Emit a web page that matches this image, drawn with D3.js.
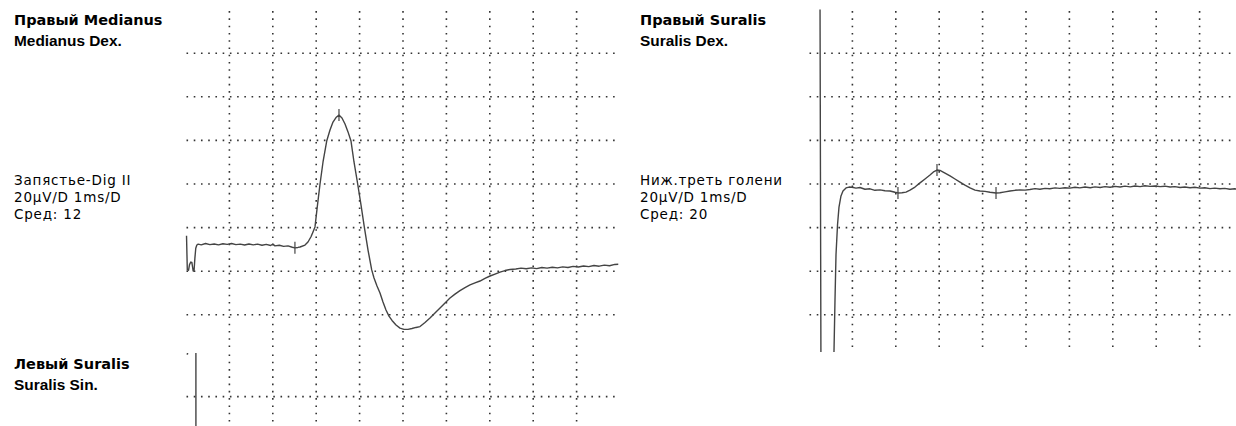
<!DOCTYPE html>
<html>
<head>
<meta charset="utf-8">
<script src="https://cdn.jsdelivr.net/npm/d3@7"></script>
<style>
  body { margin: 0; background: #fff; }
  svg { display: block; font-family: "DejaVu Sans", Verdana, sans-serif; }
</style>
</head>
<body>
<div id="emg"></div>
<script>
// time in ms, amplitude in µV (20 µV per division)
var medianusTime = [0.012, 0.030, 0.058, 0.081, 0.110, 0.135, 0.165, 0.185, 0.205, 0.225, 0.250, 0.280,
  0.35, 0.45, 0.55, 0.65, 0.75, 0.85, 0.95, 1.05, 1.15, 1.25, 1.35, 1.45, 1.55, 1.65, 1.75, 1.85, 1.95,
  2.00, 2.05, 2.15, 2.25, 2.35, 2.45, 2.51, 2.58, 2.627, 2.742, 2.811, 2.880, 2.926, 2.972, 3.030, 3.088,
  3.157, 3.242, 3.318, 3.387, 3.456, 3.525, 3.594, 3.664, 3.733, 3.802, 3.871, 3.956, 4.032, 4.108, 4.194,
  4.279, 4.332, 4.401, 4.470, 4.539, 4.608, 4.677, 4.747, 4.839, 4.931, 5.023, 5.115, 5.207, 5.300, 5.392,
  5.507, 5.622, 5.737, 5.853, 5.968, 6.083, 6.198, 6.313, 6.429, 6.544, 6.659, 6.774, 6.889, 7.005, 7.120,
  7.235, 7.350, 7.465, 7.60, 7.72, 7.84, 7.96, 8.08, 8.20, 8.32, 8.44, 8.56, 8.68, 8.80, 8.92, 9.04, 9.16,
  9.28, 9.40, 9.52, 9.64, 9.76, 9.88, 9.96];
var medianusAmp = [-23.7, -39.4, -39.6, -37.0, -35.8, -36.0, -39.9, -39.9, -34.0, -29.5, -28.0, -27.6,
  -27.9, -27.3, -27.8, -27.5, -27.9, -27.4, -27.7, -27.3, -27.8, -27.6, -28.0, -27.5, -27.9, -27.6, -28.1, -27.7, -28.2,
  -27.6, -28.4, -28.1, -28.6, -28.4, -29.0, -29.3, -29.1, -28.9, -28.0, -26.6, -24.2, -22.0, -19.7, -9.6, 0.0,
  10.1, 19.7, 24.8, 28.4, 30.5, 31.6, 30.3, 27.5, 23.9, 19.7, 10.1, 0.0, -9.6, -19.7, -30.3,
  -39.4, -43.1, -46.8, -50.0, -54.1, -57.8, -60.6, -62.6, -64.7, -66.1, -66.7, -66.7, -66.3, -65.8, -65.4,
  -63.5, -61.5, -59.2, -56.9, -54.6, -52.3, -50.5, -48.9, -47.5, -46.3, -45.4, -44.5, -43.3, -42.2, -41.3,
  -40.4, -39.7, -39.2, -39.0, -38.6, -38.9, -38.5, -38.8, -38.3, -38.6, -38.2, -38.5, -38.0, -38.3, -37.8, -38.1, -37.6,
  -37.9, -37.4, -37.7, -37.2, -37.5, -36.9, -36.8];
var medianusMarks = [2.51, 3.525];

var suralisDexTime = [0, 0.253, 0.276, 0.553, 0.576, 0.599, 0.622, 0.657, 0.691, 0.737, 0.783, 0.853, 0.922,
  0.991, 1.083, 1.175, 1.29, 1.406, 1.52, 1.636, 1.751, 1.866, 1.982, 2.05, 2.143, 2.235, 2.327, 2.442, 2.558,
  2.673, 2.788, 2.88, 2.949, 3.018, 3.134, 3.249, 3.364, 3.479, 3.594, 3.71, 3.825, 3.94, 4.055, 4.171, 4.309,
  4.4, 4.516, 4.631, 4.747, 4.862, 4.98, 5.09, 5.21, 5.32, 5.44, 5.55, 5.67, 5.78, 5.90, 6.01, 6.13, 6.24,
  6.36, 6.48, 6.59, 6.71, 6.82, 6.94, 7.05, 7.17, 7.28, 7.40, 7.51, 7.63, 7.74, 7.86, 7.97, 8.09, 8.20, 8.32,
  8.43, 8.55, 8.66, 8.78, 8.89, 9.01, 9.12, 9.24, 9.35, 9.47, 9.58, 9.70, 9.81, 9.93, 10.0];
var suralisDexAmp = [90, 90, -90, -90, -76.6, -53.2, -32.6, -18.8, -10.6, -5.5, -3.2, -1.8, -1.4,
  -1.5, -1.9, -1.6, -2.4, -2.2, -2.9, -2.7, -3.1, -3.2, -3.8, -4.1, -4.0, -3.7, -2.8, -1.4, 0.5,
  2.3, 4.1, 5.7, 6.4, 6.2, 5.0, 3.7, 2.3, 0.9, -0.5, -1.8, -2.8, -3.2, -3.4, -3.8, -4.1,
  -4.0, -3.6, -3.2, -2.9, -2.7, -2.8, -2.5, -2.1, -2.4, -2.0, -2.2, -1.8, -2.0, -1.7, -1.9, -1.5, -1.8,
  -1.4, -1.7, -1.3, -1.6, -1.2, -1.5, -1.1, -1.4, -1.0, -1.3, -0.9, -1.2, -0.8, -1.1, -0.9, -1.2, -1.0, -1.4,
  -1.2, -1.6, -1.4, -1.7, -1.5, -1.9, -1.7, -2.1, -1.9, -2.2, -2.0, -2.4, -2.2, -2.5, -2.4];
var suralisDexMarks = [2.05, 2.949, 4.309];

var suralisSinTime = [0.015, 0.035, 0.045, 0.228, 0.232, 0.40];
var suralisSinAmp = [79.5, 79.5, 90, 90, -200, -200];
var suralisSinMarks = [];

var titles = ["Правый Medianus", "Правый Suralis", "Левый Suralis"];
var subtitles = ["Medianus Dex.", "Suralis Dex.", "Suralis Sin."];
var siteLabels = ["Запястье-Dig II", "Ниж.треть голени", null];
var sweepLabel = "20µV/D 1ms/D";
var averages = [12, 20, null];
var timeTicks = [1, 2, 3, 4, 5, 6, 7, 8, 9];
var ampTicks = [-60, -40, -20, 0, 20, 40, 60];

var W = 1236, H = 426;
var divX = 43.4, divY = 43.6;

var panels = [
  { i: 0, left: 186, top: 9.6, textX: 14, t: medianusTime, v: medianusAmp, marks: medianusMarks },
  { i: 1, left: 809, top: 9.6, textX: 640, t: suralisDexTime, v: suralisDexAmp, marks: suralisDexMarks },
  { i: 2, left: 186, top: 353, textX: 14, t: suralisSinTime, v: suralisSinAmp, marks: suralisSinMarks }
];

var svg = d3.select("#emg").append("svg")
  .attr("width", W)
  .attr("height", H);

svg.append("rect").attr("width", W).attr("height", H).attr("fill", "#fff");

var defs = svg.append("defs");

panels.forEach(function (p) {
  var x = d3.scaleLinear().domain([0, 10]).range([p.left, p.left + 10 * divX]);
  var y = d3.scaleLinear().domain([-80, 80]).range([p.top + 8 * divY, p.top]);
  var gridBottom = p.i == 2 ? H : 351;

  var g = svg.append("g");

  // dotted grid
  g.selectAll("line.v").data(timeTicks).enter().append("line")
    .attr("x1", function (d) { return x(d); })
    .attr("x2", function (d) { return x(d); })
    .attr("y1", p.top + 1.5)
    .attr("y2", gridBottom)
    .attr("stroke", "#333")
    .attr("stroke-width", 1.6)
    .attr("stroke-dasharray", "1.6,5.67");

  g.selectAll("line.h").data(ampTicks).enter().append("line")
    .attr("x1", x(0) + 0.5)
    .attr("x2", Math.min(x(10), W))
    .attr("y1", function (d) { return y(d); })
    .attr("y2", function (d) { return y(d); })
    .attr("stroke", "#333")
    .attr("stroke-width", 1.6)
    .attr("stroke-dasharray", "1.6,5.63");

  // trace, clipped to the panel like the device screen
  var clipId = "clip" + p.i;
  defs.append("clipPath").attr("id", clipId)
    .append("rect")
    .attr("x", x(0) - 1)
    .attr("y", p.top)
    .attr("width", 10 * divX + 2)
    .attr("height", (p.i == 2 ? H - p.top : 352 - p.top));

  var pts = p.t.map(function (t, k) { return [t, p.v[k]]; });
  var line = d3.line()
    .x(function (d) { return x(d[0]); })
    .y(function (d) { return y(d[1]); });

  g.append("path")
    .datum(pts)
    .attr("clip-path", "url(#" + clipId + ")")
    .attr("d", line)
    .attr("fill", "none")
    .attr("stroke", "#444")
    .attr("stroke-width", 1.4)
    .attr("stroke-linejoin", "round");

  // latency cursors
  var bis = d3.bisector(function (d) { return d[0]; }).left;
  g.selectAll("line.mark").data(p.marks).enter().append("line")
    .each(function (m) {
      var k = Math.max(1, bis(pts, m));
      var a = pts[k - 1], b = pts[k];
      var val = a[1] + (b[1] - a[1]) * (m - a[0]) / (b[0] - a[0]);
      d3.select(this)
        .attr("x1", x(m)).attr("x2", x(m))
        .attr("y1", y(val) - 6).attr("y2", y(val) + 6);
    })
    .attr("stroke", "#444")
    .attr("stroke-width", 1.2);

  // labels
  g.append("text")
    .attr("x", p.textX)
    .attr("y", p.top + 15.5)
    .attr("font-size", "14.5px")
    .attr("font-weight", "bold")
    .attr("fill", "#000")
    .text(titles[p.i]);

  g.append("text")
    .attr("x", p.textX)
    .attr("y", p.top + 36.5)
    .attr("font-family", "'Liberation Sans', Arial, sans-serif")
    .attr("font-size", "15.4px")
    .attr("font-weight", "bold")
    .attr("fill", "#000")
    .text(subtitles[p.i]);

  if (siteLabels[p.i]) {
    var info = [siteLabels[p.i], sweepLabel, "Сред: " + averages[p.i]];
    g.selectAll("text.info").data(info).enter().append("text")
      .attr("x", p.textX)
      .attr("y", function (d, k) { return 184.5 + k * 17; })
      .attr("font-size", "13.5px")
      .attr("letter-spacing", "0.8px")
      .attr("fill", "#000")
      .text(function (d) { return d; });
  }
});
</script>
</body>
</html>
